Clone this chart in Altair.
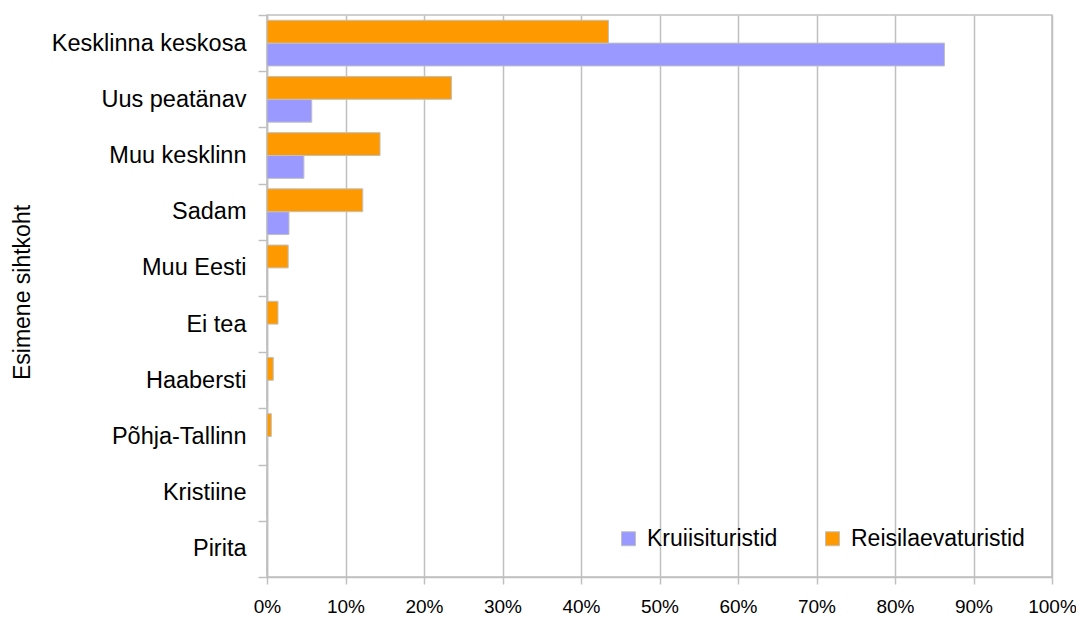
import altair as alt
import pandas as pd

categories = ["Kesklinna keskosa", "Uus peatänav", "Muu kesklinn", "Sadam", "Muu Eesti",
              "Ei tea", "Haabersti", "Põhja-Tallinn", "Kristiine", "Pirita"]
kruiisi = [0.863, 0.057, 0.047, 0.028, 0.0, 0.0, 0.0, 0.0, 0.0, 0.0]
reisilaeva = [0.435, 0.235, 0.144, 0.122, 0.027, 0.014, 0.008, 0.0055, 0.0, 0.0]
series = ["Kruiisituristid", "Reisilaevaturistid"]
colors = ["#9999ff", "#ff9900"]
x_ticks = [0, 0.1, 0.2, 0.3, 0.4, 0.5, 0.6, 0.7, 0.8, 0.9, 1.0]

rows = []
for c, k, r in zip(categories, kruiisi, reisilaeva):
    rows.append({"koht": c, "seeria": series[0], "v": k})
    rows.append({"koht": c, "seeria": series[1], "v": r})
df = pd.DataFrame(rows)

FONT = "Liberation Sans"
GRAY = "#c0c0c0"

chart = alt.Chart(df).mark_bar(stroke=GRAY, strokeWidth=1).encode(
    y=alt.Y("koht:N", sort=categories,
            scale=alt.Scale(paddingInner=0, paddingOuter=0),
            axis=alt.Axis(title="Esimene sihtkoht", tickBand="extent", tickSize=9,
                          tickColor=GRAY, tickWidth=1.5, domainColor=GRAY, domainWidth=1.5,
                          labelFont=FONT, labelFontSize=23.5, labelColor="black",
                          labelPadding=12, labelLimit=0, grid=False,
                          titleFont=FONT, titleFontSize=23, titleFontWeight="normal",
                          titleColor="black", titleX=-233, titleY=277)),
    yOffset=alt.YOffset("seeria:N", sort=[series[1], series[0]],
                        scale=alt.Scale(paddingOuter=0.23, paddingInner=0)),
    x=alt.X("v:Q", scale=alt.Scale(domain=[0, 1]),
            axis=alt.Axis(title=None, values=x_ticks, format=".0%", tickSize=7,
                          tickColor=GRAY, tickWidth=1.5, domainColor=GRAY, domainWidth=1.5,
                          gridColor=GRAY, gridWidth=1.5,
                          labelFont=FONT, labelFontSize=19, labelColor="black",
                          labelPadding=13, labelFlush=False, labelOverlap=False)),
    color=alt.Color("seeria:N", scale=alt.Scale(domain=series, range=colors),
                    legend=alt.Legend(title=None, orient="none", direction="horizontal",
                                      legendX=350, legendY=512,
                                      symbolType="square", symbolSize=196,
                                      symbolStrokeColor=GRAY, symbolStrokeWidth=1,
                                      labelFont=FONT, labelFontSize=23, labelColor="black",
                                      labelLimit=0,
                                      labelOffset=7, columnPadding=43, padding=0)),
).properties(
    width=785, height=562,
    autosize=alt.AutoSizeParams(type="none"),
    padding={"left": 259, "top": 7, "right": 24, "bottom": 38},
).configure_view(stroke=GRAY, strokeWidth=1.5)

chart.save("out.html", embed_options={"renderer": "svg", "actions": False})
